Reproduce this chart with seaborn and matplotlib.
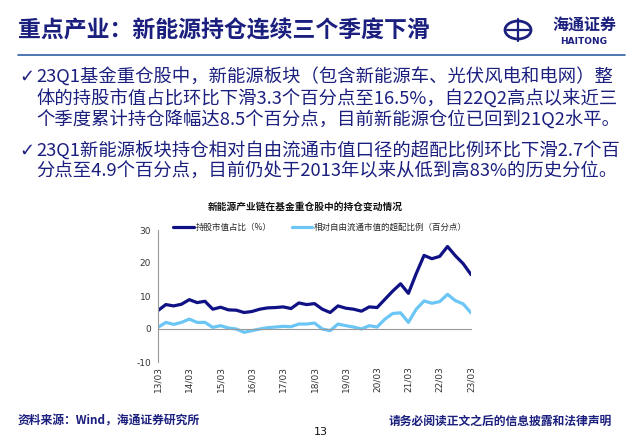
import numpy as np
import pandas as pd
import seaborn as sns
import matplotlib.pyplot as plt
from matplotlib.patches import Circle
from matplotlib.lines import Line2D

# quarterly data 13Q1 - 23Q1
quarters = [f"{y}Q{q}" for y in range(13, 23) for q in range(1, 5)] + ["23Q1"]
holding = [5.6, 7.4, 7.0, 7.5,
           8.9, 8.0, 8.4, 6.0,
           6.6, 5.8, 5.7, 5.0,
           5.3, 6.0, 6.4, 6.5,
           6.7, 6.2, 7.9, 7.4,
           7.7, 6.0, 5.0, 7.0,
           6.3, 6.0, 5.4, 6.7,
           6.5, 9.0, 11.5, 13.7,
           10.8, 16.8, 22.3, 21.3,
           22.0, 25.0, 22.2, 19.8,
           16.5]
overweight = [0.5, 2.0, 1.4, 2.0,
              3.0, 2.0, 2.0, 0.5,
              1.0, 0.3, 0.0, -1.0,
              -0.5, 0.0, 0.4, 0.6,
              0.8, 0.7, 1.5, 1.5,
              1.8, 0.0, -0.5, 1.5,
              1.0, 0.6, 0.0, 1.0,
              0.6, 3.0, 4.7, 4.9,
              2.0, 6.0, 8.5, 7.8,
              8.3, 10.5, 8.6, 7.6,
              4.9]
xtick_labels = [f"{y}/03" for y in range(13, 24)]
yticks = [-10, 0, 10, 20, 30]

name_a = "持股市值占比（%）"
name_b = "相对自由流通市值的超配比例（百分点）"
df = pd.DataFrame({"t": np.arange(len(quarters)), "a": holding, "b": overweight})

sns.set_style("white")
plt.rcParams['font.family'] = ['Noto Sans CJK SC', 'DejaVu Sans']
navy = "#1b1f7e"
dark = "#0f1185"
light = "#6cc6f5"

W, H = 640, 441
fig = plt.figure(figsize=(6.4, 4.41), dpi=100)
fx = lambda x: x / W
fy = lambda y: 1 - y / H

# header
fig.text(fx(18), fy(31), "重点产业：新能源持仓连续三个季度下滑", fontsize=16.5,
         color=navy, ha="left", va="center", fontweight="bold")
fig.add_artist(Line2D([fx(18), fx(625)], [fy(55), fy(55)], color="#2f5fa8", lw=1.2))
fig.add_artist(Circle((fx(518), fy(30)), 13 / W, transform=fig.transFigure,
                      fill=False, ec=navy, lw=2))
fig.add_artist(Line2D([fx(507), fx(529)], [fy(30), fy(30)], color=navy, lw=1.6))
fig.add_artist(Line2D([fx(518), fx(518)], [fy(19), fy(41)], color=navy, lw=1.6))
fig.text(fx(584), fy(25), "海通证券", fontsize=11.5, color=navy, ha="center", va="center",
         fontweight="bold")
fig.text(fx(584), fy(41), "HAITONG", fontsize=6.5, color=navy, ha="center", va="center",
         fontweight="bold", family="DejaVu Sans")

# bullets
lines = [
    (77, True, "23Q1基金重仓股中，新能源板块（包含新能源车、光伏风电和电网）整"),
    (99, False, "体的持股市值占比环比下滑3.3个百分点至16.5%，自22Q2高点以来近三"),
    (120, False, "个季度累计持仓降幅达8.5个百分点，目前新能源仓位已回到21Q2水平。"),
    (151, True, "23Q1新能源板块持仓相对自由流通市值口径的超配比例环比下滑2.7个百"),
    (172, False, "分点至4.9个百分点，目前仍处于2013年以来从低到高83%的历史分位。"),
]
for y, bullet, s in lines:
    if bullet:
        fig.text(fx(19), fy(y), "✓", fontsize=13, color=navy, ha="left", va="center",
                 family=["DejaVu Sans"])
    fig.text(fx(36), fy(y), s, fontsize=13.2, color=navy, ha="left", va="center")

# chart
ax = fig.add_axes([fx(158), fy(362), fx(471) - fx(158), fy(230) - fy(362)])
sns.lineplot(data=df, x="t", y="a", ax=ax, color=dark, lw=2.3, label=name_a)
sns.lineplot(data=df, x="t", y="b", ax=ax, color=light, lw=2.3, label=name_b)
for side in ["top", "right"]:
    ax.spines[side].set_visible(False)
ax.spines["bottom"].set_position(("data", 0))
ax.spines["bottom"].set_color("#999999")
ax.spines["left"].set_color("#999999")
ax.set_xlim(0, len(quarters) - 1)
ax.set_ylim(-10, 30)
ax.set_yticks(yticks)
ax.set_yticklabels([str(v) for v in yticks], fontsize=6.5, color="#333333",
                   family="DejaVu Sans")
ax.set_xticks(np.arange(0, len(quarters), 4))
ax.set_xticklabels(xtick_labels, rotation=90, fontsize=6.5, color="#333333",
                   family="DejaVu Sans")
ax.set_xlabel("")
ax.set_ylabel("")
ax.tick_params(axis="x", direction="out", length=3, color="#999999", pad=24)
ax.tick_params(axis="y", direction="out", length=3, color="#999999", pad=2)
ax.legend(loc="lower left", bbox_to_anchor=((170 - 158) / (471 - 158), 0.96),
          ncol=2, frameon=False, fontsize=6.1, handlelength=2.4, columnspacing=2.4,
          handletextpad=0.2, borderaxespad=0)
fig.text(fx(305), fy(207), "新能源产业链在基金重仓股中的持仓变动情况", fontsize=7,
         fontweight="bold", ha="center", va="center", color="#111111")

# footer
fig.text(fx(18), fy(421), "资料来源：Wind，海通证券研究所", fontsize=8.5, color=navy,
         ha="left", va="center", fontweight="bold")
fig.text(fx(612), fy(421), "请务必阅读正文之后的信息披露和法律声明", fontsize=8.5, color=navy,
         ha="right", va="center", fontweight="bold")
fig.text(fx(321), fy(432), "13", fontsize=8, color="#111111", ha="center", va="center",
         family="DejaVu Sans")

fig.savefig("out.png", dpi=100, facecolor="white")
